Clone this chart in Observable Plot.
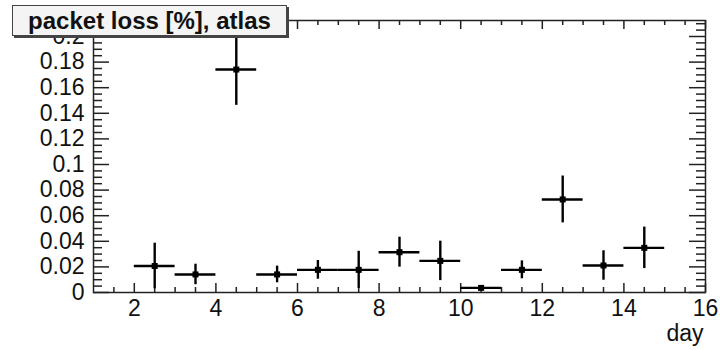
<!DOCTYPE html>
<html>
<head>
<meta charset="utf-8">
<script src="https://cdn.jsdelivr.net/npm/d3@7"></script>
<script src="https://cdn.jsdelivr.net/npm/@observablehq/plot@0.6"></script>
<style>
  html, body { margin: 0; padding: 0; background: #fff; }
  #wrap { position: relative; width: 720px; height: 350px; }
  #title {
    position: absolute; left: 12px; top: 5px; width: 273px; height: 29px;
    background: #f4f4f4; border: 1px solid #444; box-shadow: 2px 2px 0 #444;
    font: bold 24px "Liberation Sans", Arial, sans-serif; color: #111;
    line-height: 29px; text-align: center; white-space: nowrap;
  }
</style>
</head>
<body>
<div id="wrap"><div id="title">packet loss [%], atlas</div></div>
<script>
// Data (bins of width 1, centred on x.5)
const days = [2.5, 3.5, 4.5, 5.5, 6.5, 7.5, 8.5, 9.5, 10.5, 11.5, 12.5, 13.5, 14.5];
const loss = [0.0207, 0.0141, 0.1742, 0.0141, 0.0177, 0.0177, 0.0315, 0.0247, 0.0036, 0.0177, 0.0727, 0.0211, 0.0349];
const lossErr = [0.0178, 0.008, 0.028, 0.0065, 0.0073, 0.0145, 0.0117, 0.0154, 0.0015, 0.007, 0.0183, 0.0115, 0.0162];
const binHalf = 0.5;

const xMajor = [2, 4, 6, 8, 10, 12, 14, 16];
const xMinor = d3.range(1.5, 16, 0.5).filter(v => !xMajor.includes(v));
const yMajor = [0, 0.02, 0.04, 0.06, 0.08, 0.1, 0.12, 0.14, 0.16, 0.18, 0.2];
const yMinor = d3.range(0.005, 0.2125, 0.005).filter(v => Math.abs(Math.round(v / 0.02) * 0.02 - v) > 1e-9);
const xLabel = ["day"];

const data = days.map((d, i) => ({day: d, loss: loss[i], err: lossErr[i]}));

const font = '"Liberation Sans", Arial, sans-serif';
const W = 720, H = 350, ML = 93, MR = 15, MT = 20, MB = 58;
const PW = W - ML - MR, PH = H - MT - MB;
const axisColor = "#222";
const sw = 1.5;
const fs = 23;
const yFmt = d => String(+d.toFixed(3));

const chart = Plot.plot({
  width: W, height: H,
  marginLeft: ML, marginRight: MR, marginTop: MT, marginBottom: MB,
  style: {fontFamily: font, fontSize: fs + "px", color: "#111", background: "white"},
  x: {domain: [1, 16]},
  y: {domain: [0, 0.2125]},
  marks: [
    Plot.frame({stroke: axisColor, strokeWidth: sw}),
    // inward ticks: left / right (y)
    Plot.tickY(yMajor, {y: d => d, insetRight: PW - 16, stroke: axisColor, strokeWidth: sw}),
    Plot.tickY(yMinor, {y: d => d, insetRight: PW - 9, stroke: axisColor, strokeWidth: sw}),
    Plot.tickY(yMajor, {y: d => d, insetLeft: PW - 16, stroke: axisColor, strokeWidth: sw}),
    Plot.tickY(yMinor, {y: d => d, insetLeft: PW - 9, stroke: axisColor, strokeWidth: sw}),
    // inward ticks: bottom / top (x)
    Plot.tickX(xMajor, {x: d => d, insetTop: PH - 9, stroke: axisColor, strokeWidth: sw}),
    Plot.tickX(xMinor, {x: d => d, insetTop: PH - 5, stroke: axisColor, strokeWidth: sw}),
    Plot.tickX(xMajor, {x: d => d, insetBottom: PH - 9, stroke: axisColor, strokeWidth: sw}),
    Plot.tickX(xMinor, {x: d => d, insetBottom: PH - 5, stroke: axisColor, strokeWidth: sw}),
    // tick labels
    Plot.axisY({ticks: yMajor, tickSize: 0, tickPadding: 9, tickFormat: yFmt, label: null, fontSize: fs}),
    Plot.axisX({ticks: xMajor, tickSize: 0, tickPadding: 7, tickFormat: d => String(d), label: null, fontSize: fs}),
    Plot.text(xLabel, {text: d => d, frameAnchor: "bottom-right", dx: -2, dy: 48, textAnchor: "end", fontSize: fs, fill: "#111"}),
    // error bars
    Plot.ruleY(data, {y: "loss", x1: d => d.day - binHalf, x2: d => d.day + binHalf, stroke: "black", strokeWidth: 2.4}),
    Plot.ruleX(data, {x: "day", y1: d => d.loss - d.err, y2: d => d.loss + d.err, stroke: "black", strokeWidth: 2.4}),
    Plot.dot(data, {x: "day", y: "loss", symbol: "square", r: 3.4, fill: "black", stroke: "none"})
  ]
});
document.getElementById("wrap").prepend(chart);
</script>
</body>
</html>
